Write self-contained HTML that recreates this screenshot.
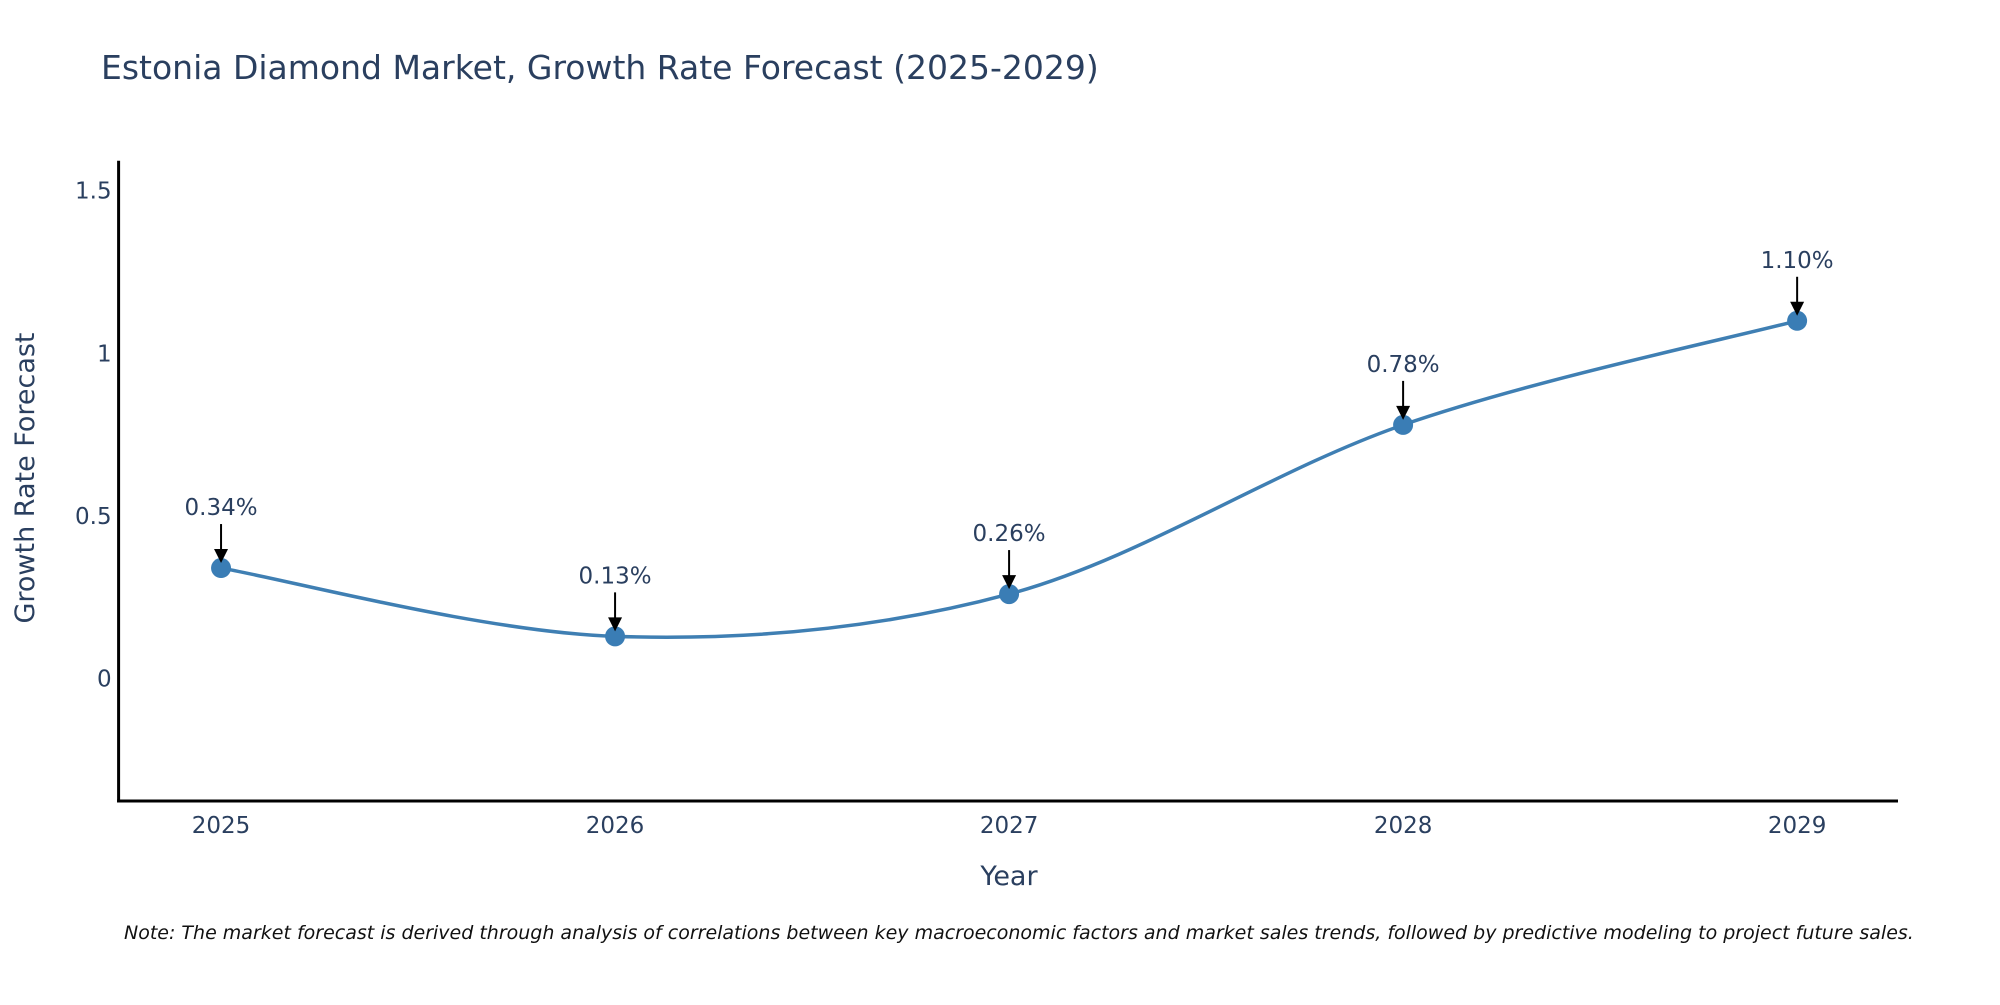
<!DOCTYPE html>
<html><head><meta charset="utf-8"><style>
body{margin:0;background:#fff;}
svg text{font-family:"DejaVu Sans","Liberation Sans",sans-serif;fill:#2a3f5f;}
</style></head><body>
<svg id="chart" width="2000" height="1000" viewBox="0 0 2000 1000" xmlns="http://www.w3.org/2000/svg">
<rect width="2000" height="1000" fill="#fff"/>
<text x="101" y="79" font-size="33">Estonia Diamond Market, Growth Rate Forecast (2025-2029)</text>
<g id="plot"></g>
<text x="1009" y="885" font-size="27" text-anchor="middle">Year</text>
<text transform="translate(34,478) rotate(-90)" font-size="27" text-anchor="middle">Growth Rate Forecast</text>
<text x="124" y="939" font-size="19" font-style="italic" style="fill:#111">Note: The market forecast is derived through analysis of correlations between key macroeconomic factors and market sales trends, followed by predictive modeling to project future sales.</text>
</svg>
<script>
const years = [2025, 2026, 2027, 2028, 2029];
const values = [0.34, 0.13, 0.26, 0.78, 1.10];
const labels = ["0.34%", "0.13%", "0.26%", "0.78%", "1.10%"];
const yTicks = [0, 0.5, 1, 1.5];
const yTickLabels = ["0", "0.5", "1", "1.5"];

const L=118.6, R=1898, T=160.7, B=801;
const xMin=2024.74, xMax=2029.256, yMin=-0.376, yMax=1.592;
const xs = v => L + (v - xMin) / (xMax - xMin) * (R - L);
const ys = v => B - (v - yMin) / (yMax - yMin) * (B - T);
const NS="http://www.w3.org/2000/svg";
const g=document.getElementById('plot');
function mk(tag, attrs){const e=document.createElementNS(NS,tag);for(const k in attrs)e.setAttribute(k,attrs[k]);g.appendChild(e);return e;}

let ax=mk('line',{x1:L,y1:T,x2:L,y2:B+1.5,stroke:'#000','stroke-width':3});


ax=mk('line',{x1:L-1.5,y1:B,x2:R,y2:B,stroke:'#000','stroke-width':3});



yTicks.forEach((t,i)=>{
  const e=mk('text',{x:L-7,y:ys(t)+8,'font-size':23,'text-anchor':'end'});
  e.textContent=yTickLabels[i];
  
  
});
years.forEach(y=>{
  const e=mk('text',{x:xs(y),y:833,'font-size':23,'text-anchor':'middle'});
  e.textContent=String(y);
  
  
});

const P=years.map((y,i)=>[xs(y),ys(values[i])]);
let d=`M${P[0][0]},${P[0][1]}`;
for(let i=0;i<P.length-1;i++){
  const p0=P[Math.max(i-1,0)],p1=P[i],p2=P[i+1],p3=P[Math.min(i+2,P.length-1)];
  const c1=[p1[0]+(p2[0]-p0[0])/6,p1[1]+(p2[1]-p0[1])/6];
  const c2=[p2[0]-(p3[0]-p1[0])/6,p2[1]-(p3[1]-p1[1])/6];
  d+=` C${c1[0]},${c1[1]} ${c2[0]},${c2[1]} ${p2[0]},${p2[1]}`;
}
const line=mk('path',{d:d,fill:'none',stroke:'#3f7fb3','stroke-width':3.5});



P.forEach((p,i)=>{
  const c=mk('circle',{cx:p[0],cy:p[1],r:10,fill:'#3a7db5'});
  
  
  const a=mk('line',{x1:p[0],y1:p[1]-44,x2:p[0],y2:p[1]-16,stroke:'#000','stroke-width':2});
  
  
  const h=mk('polygon',{points:`${p[0]-7},${p[1]-19} ${p[0]+7},${p[1]-19} ${p[0]},${p[1]-5}`,fill:'#000'});
  
  
  const t=mk('text',{x:p[0],y:p[1]-53,'font-size':23,'text-anchor':'middle'});
  t.textContent=labels[i];
  
  
});
</script>
</body></html>
